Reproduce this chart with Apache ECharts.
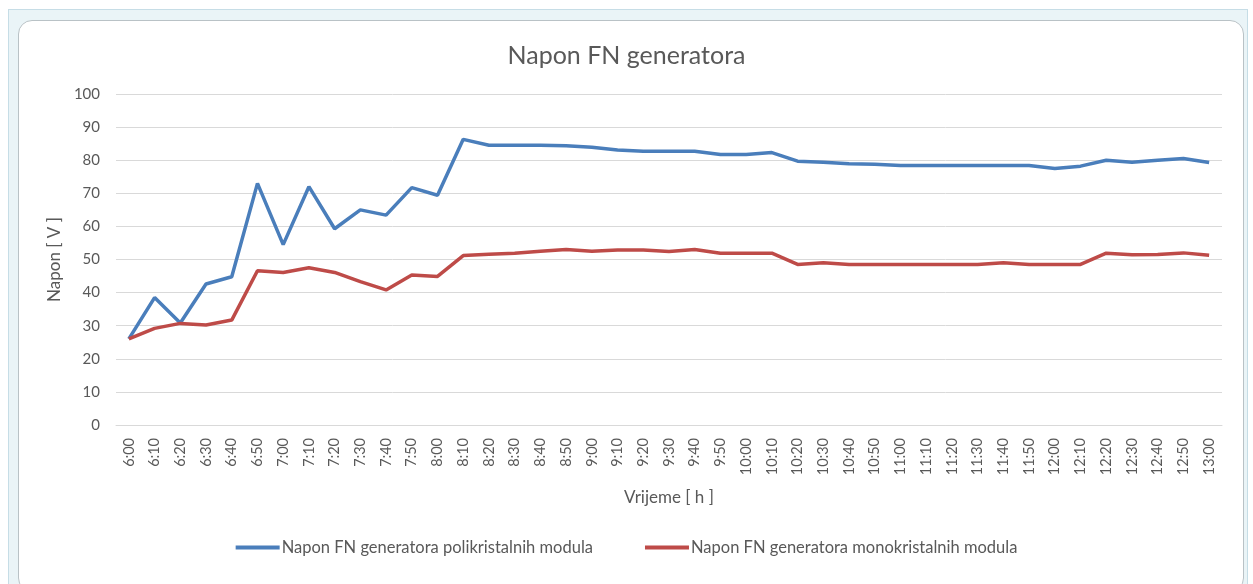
<!DOCTYPE html>
<html>
<head>
<meta charset="utf-8">
<script src="https://cdn.jsdelivr.net/npm/echarts@6/dist/echarts.min.js"></script>
<style>
  html, body { margin: 0; padding: 0; background: #fff; }
  #wrap { position: relative; width: 1253px; height: 584px; overflow: hidden; }
  #frame { position: absolute; left: 8px; top: 9px; width: 1238px; height: 580px;
           background: #eaf4f7; border: 1px solid #c6dde6; }
  #inner { position: absolute; left: 18px; top: 20px; width: 1224px; height: 570px;
           background: #fff; border: 1px solid #b9c2c6; border-radius: 14px; }
  #main { position: absolute; left: 0; top: 0; width: 1253px; height: 584px; }
</style>
</head>
<body>
<div id="wrap">
  <div id="frame"></div>
  <div id="inner"></div>
  <div id="main"></div>
</div>
<script>
// vremena mjerenja
var categories = ['6:00','6:10','6:20','6:30','6:40','6:50','7:00','7:10','7:20','7:30','7:40','7:50',
  '8:00','8:10','8:20','8:30','8:40','8:50','9:00','9:10','9:20','9:30','9:40','9:50',
  '10:00','10:10','10:20','10:30','10:40','10:50','11:00','11:10','11:20','11:30','11:40','11:50',
  '12:00','12:10','12:20','12:30','12:40','12:50','13:00'];

// polikristalni moduli
var poliValues = [26, 38.5, 30.8, 42.6, 44.8, 73, 54.5, 72, 59.3, 65, 63.4, 71.7,
  69.4, 86.3, 84.5, 84.5, 84.5, 84.4, 83.9, 83.1, 82.7, 82.7, 82.7, 81.7,
  81.7, 82.3, 79.7, 79.4, 78.9, 78.8, 78.4, 78.4, 78.4, 78.4, 78.4, 78.4,
  77.5, 78.2, 80, 79.4, 80, 80.5, 79.3];

// monokristalni moduli
var monoValues = [26, 29.2, 30.7, 30.2, 31.7, 46.6, 46.1, 47.5, 46.1, 43.3, 40.8, 45.3,
  44.9, 51.2, 51.6, 51.9, 52.5, 53.0, 52.5, 52.9, 52.9, 52.4, 53.0, 51.9,
  51.9, 51.9, 48.5, 49.0, 48.5, 48.5, 48.5, 48.5, 48.5, 48.5, 49.0, 48.5,
  48.5, 48.5, 51.9, 51.4, 51.5, 52.0, 51.3];

var seriesNames = ['Napon FN generatora polikristalnih modula', 'Napon FN generatora monokristalnih modula'];

var txt = '#595959';
var font = 'Lato, "Open Sans", sans-serif';

var myChart = echarts.init(document.getElementById('main'));
myChart.setOption({
    backgroundColor: 'transparent',
    animation: false,
    textStyle: { fontFamily: font },
    title: {
        text: 'Napon FN generatora',
        left: 'center',
        top: 38,
        textStyle: { color: txt, fontSize: 25, fontWeight: 'normal', fontFamily: font }
    },
    legend: {
        bottom: 23,
        left: 'center',
        itemWidth: 44,
        itemHeight: 4,
        itemGap: 52,
        icon: 'rect',
        textStyle: { color: txt, fontSize: 16.5, fontFamily: font, padding: [0, 0, 0, -3] },
        data: seriesNames
    },
    grid: { left: 116, right: 31, top: 94, bottom: 159 },
    xAxis: {
        type: 'category',
        data: categories,
        boundaryGap: true,
        name: 'Vrijeme [ h ]',
        nameLocation: 'middle',
        nameGap: 64,
        nameTextStyle: { color: txt, fontSize: 17 },
        axisLine: { lineStyle: { color: '#d9d9d9', width: 1 } },
        axisTick: { show: false },
        axisLabel: { rotate: 90, color: txt, fontSize: 14.5, margin: 13, interval: 0 }
    },
    yAxis: {
        type: 'value',
        min: 0,
        max: 100,
        interval: 10,
        name: 'Napon [ V ]',
        nameLocation: 'middle',
        nameGap: 52,
        nameTextStyle: { color: txt, fontSize: 17 },
        axisLine: { show: false },
        axisTick: { show: false },
        axisLabel: { color: txt, fontSize: 15, margin: 16 },
        splitLine: { lineStyle: { color: '#d9d9d9', width: 1 } }
    },
    series: [{
        name: seriesNames[0],
        type: 'line',
        data: poliValues,
        symbol: 'none',
        lineStyle: { color: '#4a7ebb', width: 3.5 },
        itemStyle: { color: '#4a7ebb' }
    }, {
        name: seriesNames[1],
        type: 'line',
        data: monoValues,
        symbol: 'none',
        lineStyle: { color: '#be4b48', width: 3.5 },
        itemStyle: { color: '#be4b48' }
    }]
});
</script>
</body>
</html>
